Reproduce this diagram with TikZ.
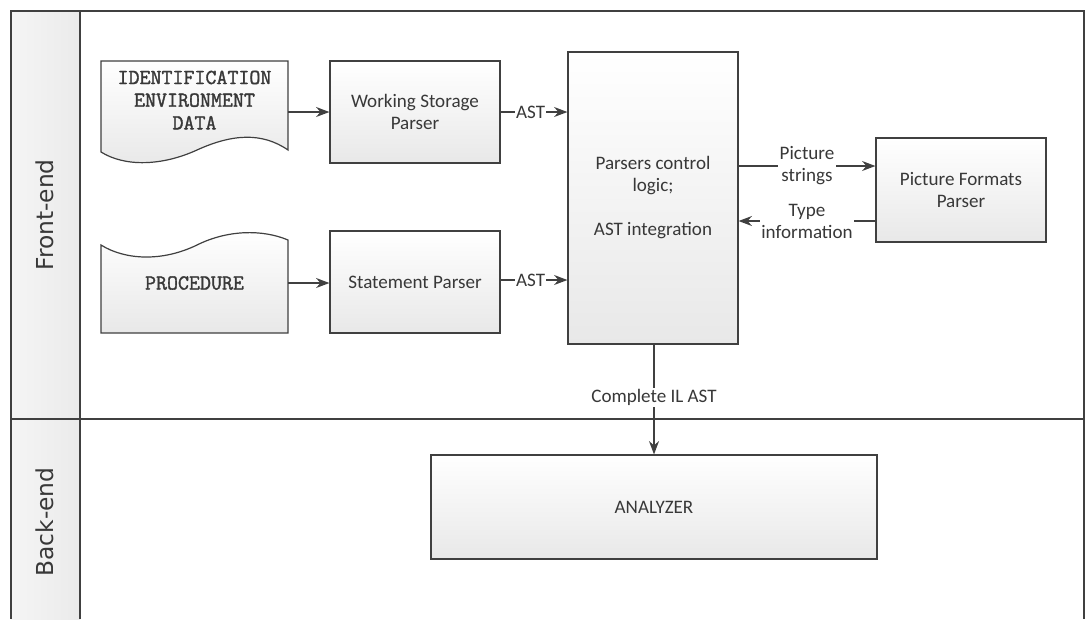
\documentclass[tikz,border=0pt]{standalone}
\usepackage{fontspec}
\setmainfont{Carlito}
\newfontfamily\lanefnt{DejaVu Sans}
\newfontfamily\monofnt[FakeBold=1.6]{Latin Modern Mono}
\usetikzlibrary{arrows.meta,shadings}
\definecolor{ln}{HTML}{404040}
\definecolor{tx}{HTML}{383838}
\tikzset{
  x=0.75pt,y=-0.75pt,
  boxfill/.style={top color=white,bottom color=black!9,draw=ln,line width=0.9pt},
  proc/.style={boxfill,rectangle,minimum width=127.5pt,minimum height=76.5pt,inner sep=0pt,align=center,text=tx,font=\fontsize{14.3}{16.5}\selectfont},
  doctext/.style={inner sep=0pt,align=center,text=tx,font=\monofnt\bfseries\fontsize{16}{17}\selectfont},
  conn/.style={draw=ln,line width=0.9pt,-{Stealth[length=10pt,width=7.5pt]}},
  lbl/.style={fill=white,inner sep=1pt,text=tx,font=\fontsize{14.3}{16.5}\selectfont,align=center},
  lane/.style={rotate=90,text=tx,font=\lanefnt\fontsize{17.5}{20}\selectfont},
  frame/.style={draw=ln,line width=0.9pt}
}
\begin{document}
\begin{tikzpicture}
\useasboundingbox (0,0) rectangle (1087,619);
% swimlane frame
\shade[left color=black!4,right color=black!8] (11,11) rectangle (80,619);
\draw[frame] (11,619) -- (11,11) -- (1084,11) -- (1084,619);
\draw[frame] (80,11) -- (80,619);
\draw[frame] (11,419) -- (1084,419);
\node[lane] (fe) at (45,215) {Front-end};
\node[lane] (be) at (45,522) {Back-end};
% document shapes
\shade[boxfill] (101,61) -- (288,61) -- (288,150) .. controls (262,132) and (232,134) .. (197,150) .. controls (162,166) and (125,167) .. (101,152) -- cycle;
\node[doctext,minimum width=140.25pt,minimum height=60pt] (doc1) at (194.5,100) {IDENTIFICATION\\ENVIRONMENT\\DATA};
\shade[boxfill] (101,333) -- (101,245) .. controls (125,260) and (162,262) .. (197,245) .. controls (227,230) and (262,229) .. (288,240) -- (288,333) -- cycle;
\node[doctext,minimum width=140.25pt,minimum height=30pt] (doc2) at (194.5,283) {PROCEDURE};
% process boxes
\node[proc] (wsp) at (415,112) {Working Storage\\Parser};
\node[proc] (stp) at (415,282) {Statement Parser};
\node[proc,minimum height=219pt] (ctl) at (653,198) {Parsers control\\logic;\\[16.5pt]AST integration};
\node[proc,minimum height=78pt] (pfp) at (961,190) {Picture Formats\\Parser};
\node[proc,minimum width=334.5pt,minimum height=78pt] (ana) at (654,507) {ANALYZER};
% connectors
\draw[conn] (doc1.east |- 0,112) -- (wsp.west |- 0,112);
\draw[conn] (doc2.east |- 0,283) -- (stp.west |- 0,283);
\draw[conn] (wsp.east |- 0,112) -- node[lbl,pos=0.45] (l1) {AST} (ctl.west |- 0,112);
\draw[conn] (stp.east |- 0,280) -- node[lbl,pos=0.45] (l2) {AST} (ctl.west |- 0,280);
\draw[conn] (ctl.east |- 0,166) -- node[lbl,pos=0.5] (l3) {Picture\\strings} (pfp.west |- 0,166);
\draw[conn] (pfp.west |- 0,221) -- node[lbl,pos=0.5] (l4) {Type\\information} (ctl.east |- 0,221);
\draw[conn] (ctl.south -| 654,0) -- node[lbl,pos=0.48] (l5) {Complete IL AST} (ana.north -| 654,0);
\end{tikzpicture}
\end{document}
